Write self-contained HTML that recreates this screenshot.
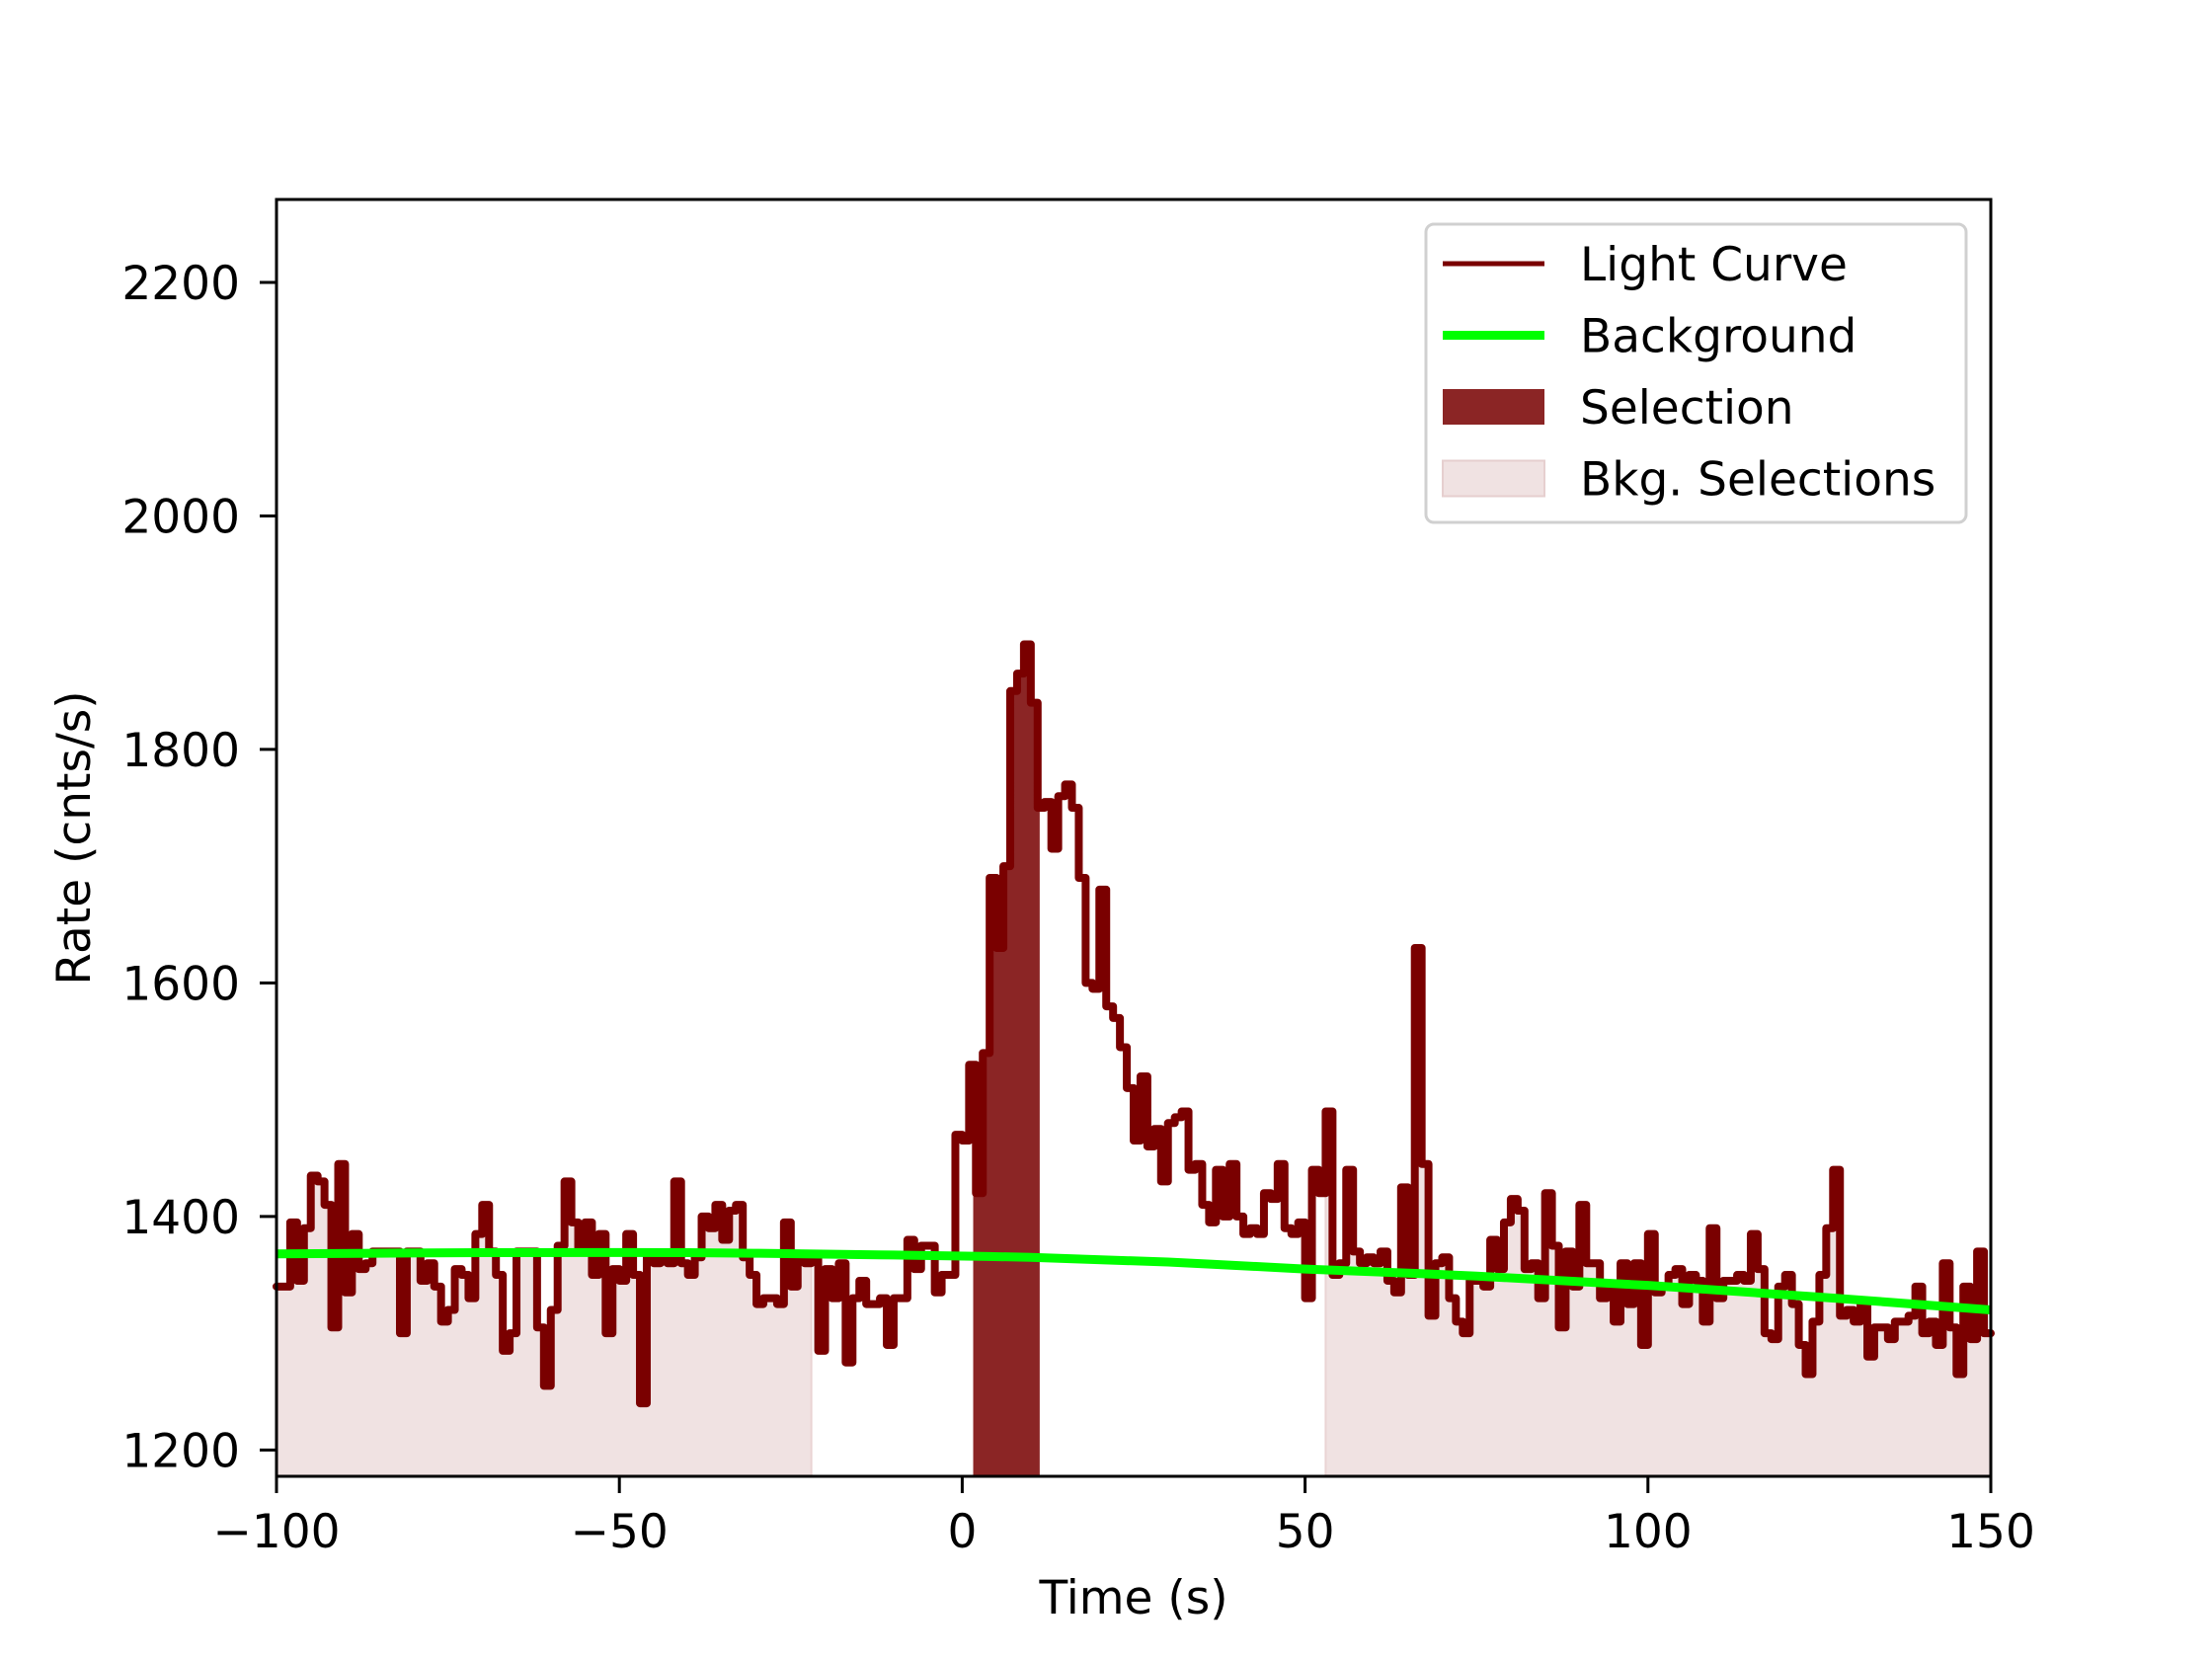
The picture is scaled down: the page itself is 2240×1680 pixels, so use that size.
<!DOCTYPE html>
<html><head><meta charset="utf-8"><style>
html,body{margin:0;padding:0;background:#fff;}
svg{display:block;font-family:"DejaVu Sans","Liberation Sans",sans-serif;}
</style></head><body>
<svg id="chart" width="2240" height="1680" viewBox="0 0 2240 1680" xmlns="http://www.w3.org/2000/svg">
<rect x="0" y="0" width="2240" height="1680" fill="#fff"/>
<g id="plot"></g>
<g id="axes"></g>
</svg>
<script>
const binStart = -100;
const binWidth = 1;
const rates = [
1340,1340,1395,1345,1390,1435,1430,1410,1305,1445,
1335,1385,1355,1360,1370,1370,1370,1370,1300,1370,
1370,1345,1360,1340,1310,1320,1355,1350,1330,1385,
1410,1370,1350,1285,1300,1370,1370,1370,1305,1255,
1320,1375,1430,1395,1370,1395,1350,1385,1300,1355,
1345,1385,1350,1240,1365,1360,1365,1360,1430,1360,
1350,1365,1400,1390,1410,1380,1405,1410,1365,1350,
1325,1330,1330,1325,1395,1340,1365,1360,1365,1285,
1355,1330,1360,1275,1330,1345,1325,1325,1330,1290,
1330,1330,1380,1355,1375,1375,1335,1350,1350,1470,
1465,1530,1420,1540,1690,1630,1700,1850,1865,1890,
1840,1750,1755,1715,1760,1770,1750,1690,1600,1595,
1680,1580,1570,1545,1510,1465,1520,1460,1475,1430,
1480,1485,1490,1440,1445,1410,1395,1440,1400,1445,
1400,1385,1390,1385,1420,1415,1445,1390,1385,1395,
1330,1440,1420,1490,1350,1360,1440,1370,1360,1365,
1360,1370,1345,1335,1425,1350,1630,1445,1315,1360,
1365,1330,1310,1300,1345,1345,1340,1380,1355,1395,
1415,1405,1355,1360,1330,1420,1375,1305,1370,1340,
1410,1360,1360,1330,1340,1310,1360,1325,1360,1290,
1385,1335,1340,1350,1355,1325,1350,1345,1310,1390,
1330,1345,1345,1350,1345,1385,1355,1300,1295,1340,
1350,1325,1290,1265,1310,1350,1390,1440,1315,1320,
1310,1325,1280,1305,1305,1295,1310,1310,1315,1340,
1300,1310,1290,1360,1305,1265,1340,1295,1370,1300
];
const bkgTimes = [-100,-70,-40,-10,10,30,50,75,100,125,150];
const bkgRates = [1368,1369,1369,1367,1365,1361,1355,1349,1341,1331,1320];
const selection = [1.6, 11.3];
const bkgSelections = [[-100,-22],[53,150]];
const xTicks = [-100,-50,0,50,100,150];
const xTickLabels = ["\u2212100","\u221250","0","50","100","150"];
const yTicks = [1200,1400,1600,1800,2000,2200];
const yTickLabels = ["1200","1400","1600","1800","2000","2200"];

const L=280,R=2016,T=202,B=1495, X0=-100,X1=150,Y0=1177.5,Y1=2271;
const sx=v=>L+(v-X0)/(X1-X0)*(R-L);
const sy=v=>B-(v-Y0)/(Y1-Y0)*(B-T);
const NS="http://www.w3.org/2000/svg";
function mk(tag,attrs,parent){const e=document.createElementNS(NS,tag);for(const k in attrs)e.setAttribute(k,attrs[k]);parent.appendChild(e);return e;}
const plot=document.getElementById('plot'), axes=document.getElementById('axes');

function rateAt(t){let i=Math.floor((t-binStart)/binWidth);i=Math.max(0,Math.min(rates.length-1,i));return rates[i];}
function fillPath(a,b){
  let d=`M${sx(a)},${sy(Y0)} L${sx(a)},${sy(rateAt(a))}`;
  for(let i=0;i<rates.length;i++){
    const t0=binStart+i*binWidth,t1=t0+binWidth;
    if(t1<=a||t0>=b)continue;
    const s=Math.max(a,t0),e=Math.min(b,t1);
    d+=` L${sx(s)},${sy(rates[i])} L${sx(e)},${sy(rates[i])}`;
  }
  d+=` L${sx(b)},${sy(Y0)} Z`;return d;
}
bkgSelections.forEach(([a,b])=>{
  const p=mk('path',{d:fillPath(a,b),fill:'#f0e2e2',stroke:'#ead4d4','stroke-width':2},plot);
  
  
});
{
  const p=mk('path',{d:fillPath(selection[0],selection[1]),fill:'#8b2525'},plot);
  
  
}
{
  let d='';
  for(let i=0;i<rates.length;i++){
    const t0=binStart+i*binWidth,t1=t0+binWidth;
    d+=(i?' L':'M')+`${sx(t0)},${sy(rates[i])} L${sx(t1)},${sy(rates[i])}`;
  }
  const p=mk('path',{d:d,fill:'none',stroke:'#7a0000','stroke-width':8,'stroke-linejoin':'round','stroke-linecap':'round'},plot);
  
  
}
{
  let pts=bkgTimes.map((t,i)=>[sx(t),sy(bkgRates[i])]);
  let d=`M${pts[0][0]},${pts[0][1]}`;
  for(let i=0;i<pts.length-1;i++){
    const p0=pts[Math.max(0,i-1)],p1=pts[i],p2=pts[i+1],p3=pts[Math.min(pts.length-1,i+2)];
    const c1=[p1[0]+(p2[0]-p0[0])/6,p1[1]+(p2[1]-p0[1])/6],c2=[p2[0]-(p3[0]-p1[0])/6,p2[1]-(p3[1]-p1[1])/6];
    d+=` C${c1[0]},${c1[1]} ${c2[0]},${c2[1]} ${p2[0]},${p2[1]}`;
  }
  const p=mk('path',{d:d,fill:'none',stroke:'#00ff00','stroke-width':9},plot);
  
  
}
{
  const f=mk('rect',{x:L,y:T,width:R-L,height:B-T,fill:'none',stroke:'#000','stroke-width':3},axes);
  
  
}
xTicks.forEach((v,i)=>{
  const l=mk('line',{x1:sx(v),x2:sx(v),y1:B,y2:B+17,stroke:'#000','stroke-width':3},axes);
  
  
  const t=mk('text',{x:sx(v),y:B+72,'text-anchor':'middle','font-size':47,fill:'#000'},axes);
  t.textContent=xTickLabels[i];
  
  
});
yTicks.forEach((v,i)=>{
  const l=mk('line',{x1:L-17,x2:L,y1:sy(v),y2:sy(v),stroke:'#000','stroke-width':3},axes);
  
  
  const t=mk('text',{x:243,y:sy(v)+17,'text-anchor':'end','font-size':47,fill:'#000'},axes);
  t.textContent=yTickLabels[i];
  
  
});
{
  const t=mk('text',{x:(L+R)/2,y:1634,'text-anchor':'middle','font-size':47,fill:'#000'},axes);
  t.textContent='Time (s)';
  
  
  const y=mk('text',{x:0,y:0,'text-anchor':'middle','font-size':47,fill:'#000',transform:`translate(91,${(T+B)/2}) rotate(-90)`},axes);
  y.textContent='Rate (cnts/s)';
  
  
}
{
  const g=mk('g',{},axes);
  
  
  mk('rect',{x:1444,y:227,width:547,height:302,rx:8,fill:'#fff','fill-opacity':0.8,stroke:'#d0d0d0','stroke-width':3},g);
  const entries=[['Light Curve','line','#7a0000',5],['Background','line','#00ff00',9],['Selection','box','#8b2525'],['Bkg. Selections','box','#f0e2e2']];
  entries.forEach((e,i)=>{
    const y=267+i*72.5;
    const eg=mk('g',{},g);
    
    
    if(e[1]==='line') mk('line',{x1:1461,x2:1564,y1:y,y2:y,stroke:e[2],'stroke-width':e[3]},eg);
    else mk('rect',{x:1461,y:y-18,width:103,height:36,fill:e[2],stroke:i===3?'#e6cfcf':'none','stroke-width':2},eg);
    const t=mk('text',{x:1600,y:y+17,'font-size':47,fill:'#000'},eg);
    t.textContent=e[0];
  });
}
</script>
</body></html>
